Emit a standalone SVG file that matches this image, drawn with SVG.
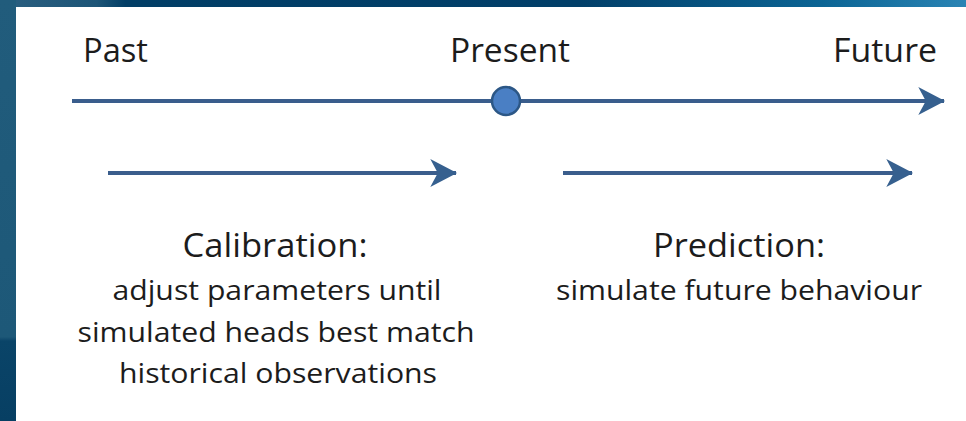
<svg xmlns="http://www.w3.org/2000/svg" width="966" height="421" viewBox="0 0 966 421">
  <defs>
    <linearGradient id="topbg" x1="0" y1="0" x2="1" y2="0">
      <stop offset="0" stop-color="#2b5f80"/>
      <stop offset="0.1" stop-color="#1d5577"/>
      <stop offset="0.13" stop-color="#023e66"/>
      <stop offset="0.6" stop-color="#023f69"/>
      <stop offset="0.85" stop-color="#0b6494"/>
      <stop offset="1" stop-color="#2a84b4"/>
    </linearGradient>
    <linearGradient id="leftbg" x1="0" y1="0" x2="0" y2="1">
      <stop offset="0" stop-color="#215c7c"/>
      <stop offset="0.8" stop-color="#1d5878"/>
      <stop offset="0.81" stop-color="#0a4468"/>
      <stop offset="1" stop-color="#073f63"/>
    </linearGradient>
    <marker id="arr" markerUnits="userSpaceOnUse" markerWidth="30" markerHeight="30" viewBox="0 0 26 28" refX="24" refY="14" orient="auto">
      <path d="M0,1 L25,14 L0,27 L7,14 Z" fill="#36608f"/>
    </marker>
    <style>
      .t { font-family: "Open Sans", "Noto Sans", "Liberation Sans", sans-serif; fill: #1c1c1c; }
      .big { font-size: 32px; }
      .small { font-size: 27px; }
      .line { stroke: #3a5d8c; stroke-width: 4; fill: none; }
    </style>
  </defs>
  <rect x="0" y="0" width="966" height="421" fill="#ffffff"/>
  <rect x="0" y="0" width="966" height="7" fill="url(#topbg)"/>
  <rect x="0" y="0" width="16" height="421" fill="url(#leftbg)"/>

  <g id="connectors">
    <line class="line" x1="72" y1="101" x2="944" y2="101" marker-end="url(#arr)"/>
    <line class="line" x1="108" y1="173" x2="456" y2="173" marker-end="url(#arr)"/>
    <line class="line" x1="563" y1="173" x2="912" y2="173" marker-end="url(#arr)"/>
  </g>

  <g id="past">
    <text class="t big" x="83" y="62" textLength="65" lengthAdjust="spacingAndGlyphs">Past</text>
  </g>
  <g id="present">
    <circle cx="506" cy="101" r="14" fill="#4a7fc4" stroke="#2c5786" stroke-width="2.5"/>
    <text class="t big" x="510" y="62" text-anchor="middle" textLength="120" lengthAdjust="spacingAndGlyphs">Present</text>
  </g>
  <g id="future">
    <text class="t big" x="937" y="62" text-anchor="end" textLength="104" lengthAdjust="spacingAndGlyphs">Future</text>
  </g>
  <g id="calibration">
    <text class="t big" x="275" y="257" text-anchor="middle" textLength="185" lengthAdjust="spacingAndGlyphs">Calibration:</text>
    <text class="t small" x="277" y="300" text-anchor="middle" textLength="329" lengthAdjust="spacingAndGlyphs">adjust parameters until</text>
    <text class="t small" x="276" y="342" text-anchor="middle" textLength="397" lengthAdjust="spacingAndGlyphs">simulated heads best match</text>
    <text class="t small" x="278" y="383" text-anchor="middle" textLength="318" lengthAdjust="spacingAndGlyphs">historical observations</text>
  </g>
  <g id="prediction">
    <text class="t big" x="739" y="257" text-anchor="middle" textLength="172" lengthAdjust="spacingAndGlyphs">Prediction:</text>
    <text class="t small" x="739" y="300" text-anchor="middle" textLength="366" lengthAdjust="spacingAndGlyphs">simulate future behaviour</text>
  </g>
</svg>
